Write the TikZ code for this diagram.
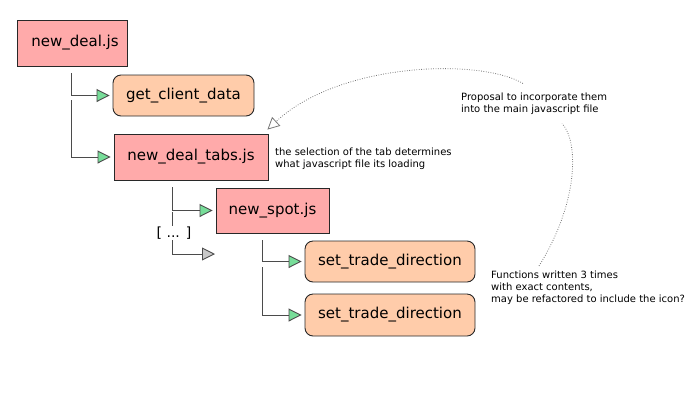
\documentclass[tikz,border=0pt]{standalone}
\usepackage{fontspec}
\setmainfont{DejaVu Sans}
\usetikzlibrary{arrows.meta,calc}
\definecolor{boxpink}{RGB}{255,170,170}
\definecolor{boxpeach}{RGB}{255,204,170}
\definecolor{arrgreen}{RGB}{119,221,153}
\definecolor{arrgray}{RGB}{200,200,200}
\definecolor{edgedark}{RGB}{40,40,40}
\definecolor{linegray}{RGB}{75,75,75}
\definecolor{dotgray}{RGB}{120,120,120}
\begin{document}
\begin{tikzpicture}[x=1pt,y=-1pt,
  every node/.style={font=\fontsize{15}{18}\selectfont, text=black},
  filebox/.style={draw=edgedark, fill=boxpink, line width=0.9pt, inner sep=0pt},
  funcbox/.style={draw=edgedark, fill=boxpeach, line width=0.9pt, rounded corners=8pt, inner sep=0pt},
  note/.style={font=\fontsize{10}{12}\selectfont, align=left, inner sep=0pt, anchor=west},
  tree/.style={draw=linegray, line width=0.9pt, shorten >=3pt,
    -{Triangle[length=13pt,width=13pt,fill=arrgreen]}},
  treegray/.style={draw=linegray, line width=0.9pt, shorten >=3pt,
    -{Triangle[length=13pt,width=13pt,fill=arrgray]}},
  remark/.style={draw=dotgray, line width=0.8pt, dash pattern=on 0.8pt off 1.6pt,
    -{Triangle[open,length=12pt,width=12pt,fill=white]}},
  remarkplain/.style={draw=dotgray, line width=0.8pt, dash pattern=on 0.8pt off 1.6pt}
]
\useasboundingbox (0,0) rectangle (700,416);

% nodes
\node[filebox, minimum width=110pt, minimum height=46pt] (nd) at (72,43) {\hspace*{6pt}new\_deal.js};
\node[funcbox, minimum width=141pt, minimum height=41pt] (gcd) at (183.5,95.5) {get\_client\_data};
\node[filebox, minimum width=154pt, minimum height=46pt] (tabs) at (191,157) {new\_deal\_tabs.js};
\node[filebox, minimum width=113pt, minimum height=45pt] (spot) at (272.5,210.5) {new\_spot.js};
\node[funcbox, minimum width=170pt, minimum height=41pt] (std1) at (390,261.5) {set\_trade\_direction};
\node[funcbox, minimum width=170pt, minimum height=42pt] (std2) at (390,315) {set\_trade\_direction};
\coordinate (more) at (218,254);

% notes
\node[note] (sel) at (275,158.5) {the selection of the tab determines\\what javascript file its loading};
\node[note] (prop) at (461,103.5) {Proposal to incorporate them\\into the main javascript file};
\node[note] (fn) at (491,288) {Functions written 3 times\\with exact contents,\\may be refactored to include the icon?};

% tree connectors
\draw[tree] ($(nd.south west)+(55,7)$) |- (gcd.west);
\draw[tree] ($(nd.south west)+(55,34)$) |- (tabs.west);
\draw[tree] ($(tabs.south west)+(59,7)$) |- (spot.west);
\draw[treegray] ($(tabs.south west)+(59,32)$) |- (more);
\node[fill=white, inner sep=1pt, font=\fontsize{14}{16}\selectfont] (dots) at (174,233) {[ ... ]};
\draw[tree] ($(spot.south west)+(47,7)$) |- (std1.west);
\draw[tree] ($(spot.south west)+(47,34)$) |- (std2.west);

% dotted remark connectors
\draw[remarkplain] ($(fn.north west)+(48,-5)$) .. controls (580,200) and (578,140) .. ($(prop.south west)+(101,9)$);
\draw[remark] ($(prop.north west)+(62,-9)$) .. controls (480,58) and (340,62) .. ($(tabs.north east)+(-1,-4)$);
\end{tikzpicture}
\end{document}
